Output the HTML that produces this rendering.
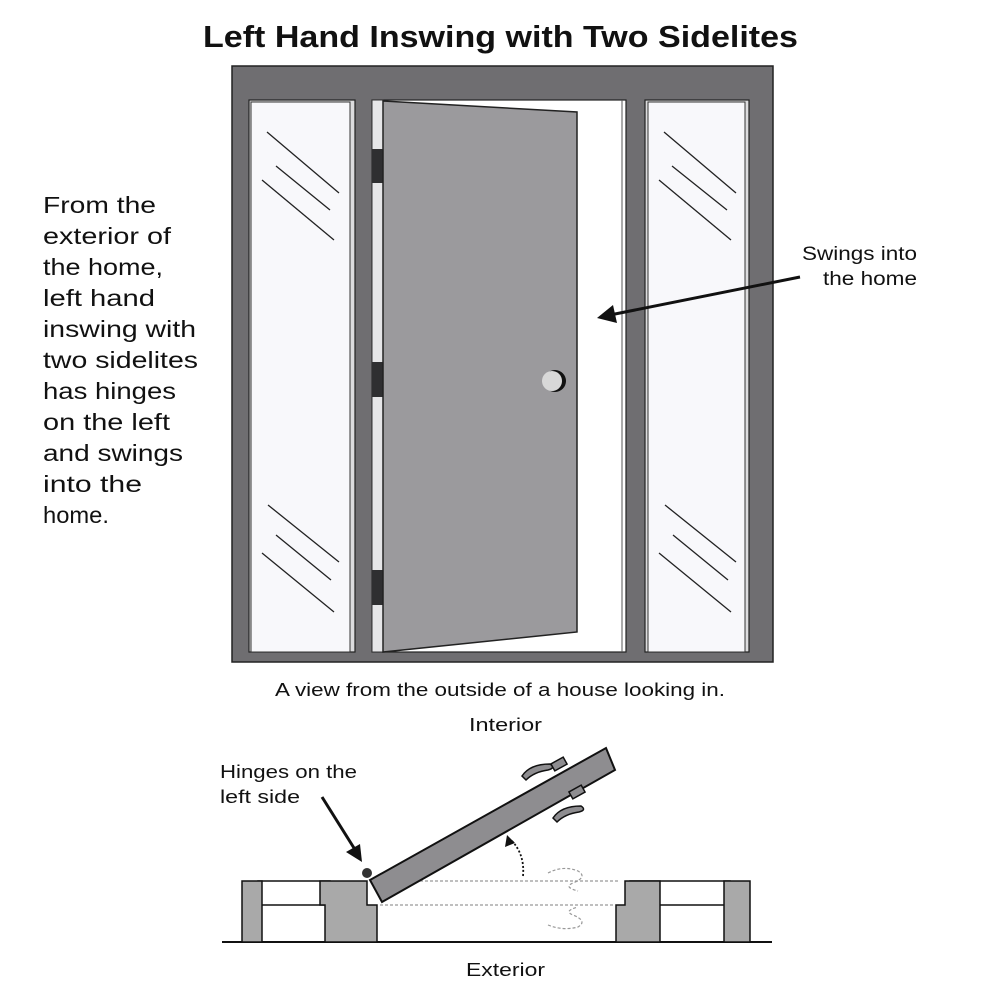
<!DOCTYPE html>
<html><head><meta charset="utf-8"><style>
html,body{margin:0;padding:0;background:#fff;}
svg{display:block;}
text{font-family:"Liberation Sans",sans-serif;fill:#111;}
</style></head><body>
<svg width="1000" height="1000" viewBox="0 0 1000 1000" xmlns="http://www.w3.org/2000/svg">
<text x="203" y="47" font-size="31" font-weight="bold" textLength="595" lengthAdjust="spacingAndGlyphs">Left Hand Inswing with Two Sidelites</text>
<!-- frame -->
<rect x="232" y="66" width="541" height="596" fill="#6f6e71" stroke="#222" stroke-width="1.5"/>
<rect x="249" y="100" width="106" height="552" fill="#dcdcde" stroke="#222" stroke-width="1.2"/>
<rect x="251" y="102" width="99" height="550" fill="#f8f8fb" stroke="#333" stroke-width="1"/>
<rect x="645" y="100" width="104" height="552" fill="#dcdcde" stroke="#222" stroke-width="1.2"/>
<rect x="648" y="102" width="97" height="550" fill="#f8f8fb" stroke="#333" stroke-width="1"/>
<g stroke="#222" stroke-width="1.3">
<line x1="267" y1="132" x2="339" y2="193"/><line x1="276" y1="166" x2="330" y2="210"/><line x1="262" y1="180" x2="334" y2="240"/>
<line x1="268" y1="505" x2="339" y2="562"/><line x1="276" y1="535" x2="331" y2="580"/><line x1="262" y1="553" x2="334" y2="612"/>
<line x1="664" y1="132" x2="736" y2="193"/><line x1="672" y1="166" x2="727" y2="210"/><line x1="659" y1="180" x2="731" y2="240"/>
<line x1="665" y1="505" x2="736" y2="562"/><line x1="673" y1="535" x2="728" y2="580"/><line x1="659" y1="553" x2="731" y2="612"/>
</g>
<rect x="372" y="100" width="254" height="552" fill="#fff" stroke="#222" stroke-width="1.2"/>
<rect x="372" y="100" width="11" height="552" fill="#e6e6e8" stroke="#333" stroke-width="1"/>
<line x1="622" y1="100" x2="622" y2="652" stroke="#555" stroke-width="1"/>
<rect x="372" y="149" width="11" height="34" fill="#2f2f31"/>
<rect x="372" y="362" width="11" height="35" fill="#2f2f31"/>
<rect x="372" y="570" width="11" height="35" fill="#2f2f31"/>
<polygon points="383,101 577,112 577,632 383,652" fill="#9b9a9d" stroke="#222" stroke-width="1.5"/>
<circle cx="555" cy="381" r="11" fill="#111"/>
<circle cx="552" cy="381" r="10" fill="#d8d8d8"/>
<line x1="800" y1="277" x2="610" y2="315" stroke="#111" stroke-width="3"/>
<polygon points="597,318 613,305 617,323" fill="#111"/>
<text x="802" y="260" font-size="19" textLength="115" lengthAdjust="spacingAndGlyphs">Swings into</text>
<text x="823" y="285" font-size="19" textLength="94" lengthAdjust="spacingAndGlyphs">the home</text>
<g font-size="23">
<text x="43" y="213" textLength="113" lengthAdjust="spacingAndGlyphs">From the</text>
<text x="43" y="244" textLength="128" lengthAdjust="spacingAndGlyphs">exterior of</text>
<text x="43" y="275" textLength="120" lengthAdjust="spacingAndGlyphs">the home,</text>
<text x="43" y="306" textLength="112" lengthAdjust="spacingAndGlyphs">left hand</text>
<text x="43" y="337" textLength="153" lengthAdjust="spacingAndGlyphs">inswing with</text>
<text x="43" y="368" textLength="155" lengthAdjust="spacingAndGlyphs">two sidelites</text>
<text x="43" y="399" textLength="133" lengthAdjust="spacingAndGlyphs">has hinges</text>
<text x="43" y="430" textLength="127" lengthAdjust="spacingAndGlyphs">on the left</text>
<text x="43" y="461" textLength="140" lengthAdjust="spacingAndGlyphs">and swings</text>
<text x="43" y="492" textLength="99" lengthAdjust="spacingAndGlyphs">into the</text>
<text x="43" y="523" textLength="66" lengthAdjust="spacingAndGlyphs">home.</text>
</g>
<text x="275" y="696" font-size="18" textLength="450" lengthAdjust="spacingAndGlyphs">A view from the outside of a house looking in.</text>
<text x="469" y="731" font-size="18" textLength="73" lengthAdjust="spacingAndGlyphs">Interior</text>
<text x="466" y="976" font-size="18" textLength="79" lengthAdjust="spacingAndGlyphs">Exterior</text>
<text x="220" y="778" font-size="18" textLength="137" lengthAdjust="spacingAndGlyphs">Hinges on the</text>
<text x="220" y="803" font-size="18" textLength="80" lengthAdjust="spacingAndGlyphs">left side</text>
<line x1="222" y1="942" x2="772" y2="942" stroke="#111" stroke-width="2"/>
<g stroke="#111" stroke-width="1.5">
<rect x="258" y="881" width="72" height="24" fill="#fff"/>
<rect x="242" y="881" width="20" height="61" fill="#a9a9a9"/>
<path d="M325,942 V905 H320 V881 H367 V905 H377 V942 Z" fill="#a9a9a9"/>
<rect x="630" y="881" width="100" height="24" fill="#fff"/>
<rect x="724" y="881" width="26" height="61" fill="#a9a9a9"/>
<path d="M616,942 V905 H625 V881 H660 V942 Z" fill="#a9a9a9"/>
</g>
<g stroke="#999" stroke-width="1.2" stroke-dasharray="3,2" fill="none">
<line x1="420" y1="881" x2="620" y2="881"/>
<line x1="380" y1="905" x2="615" y2="905"/>
<path d="M548,873 q15,-8 30,-2 q10,6 -5,12 q-10,4 5,8"/>
<path d="M548,925 q15,6 30,2 q10,-6 -5,-12 q-10,-4 5,-8"/>
</g>
<polygon points="370,880 606,748 615,770 382,902" fill="#8e8d90" stroke="#111" stroke-width="2"/>
<g fill="#8e8d90" stroke="#111" stroke-width="1.5">
<path d="M522,776 q8,-12 28,-12 q6,4 -2,6 q-14,2 -22,10 z"/>
<rect x="552" y="760" width="14" height="8" transform="rotate(-29 559 764)"/>
<path d="M553,818 q8,-12 28,-12 q6,4 -2,6 q-14,2 -22,10 z"/>
<rect x="570" y="788" width="14" height="8" transform="rotate(-29 577 792)"/>
</g>
<circle cx="367" cy="873" r="5" fill="#333"/>
<line x1="322" y1="797" x2="354" y2="848" stroke="#111" stroke-width="3"/>
<polygon points="362,862 346,852 360,844" fill="#111"/>
<path d="M523,876 q2,-22 -12,-36" stroke="#111" stroke-width="1.8" stroke-dasharray="2,2" fill="none"/>
<polygon points="507,835 505,847 515,843" fill="#111"/>
</svg>
</body></html>
